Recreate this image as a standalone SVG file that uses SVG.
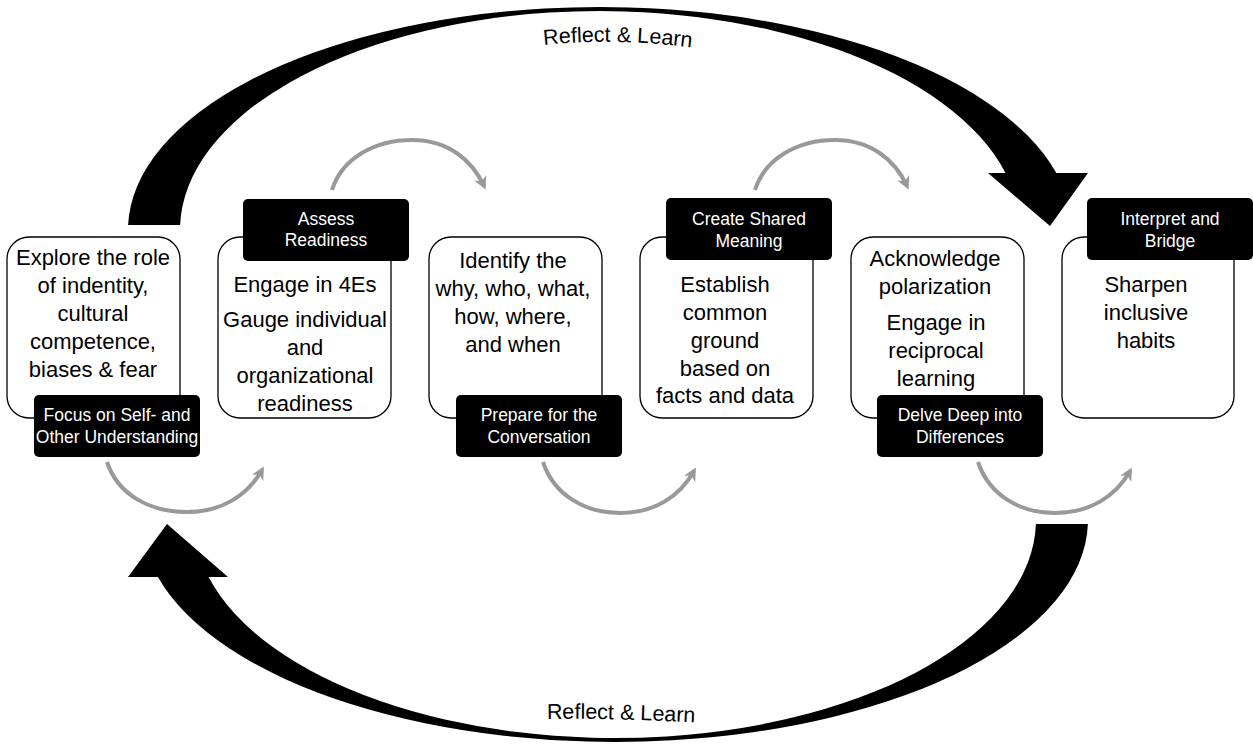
<svg xmlns="http://www.w3.org/2000/svg" width="1253" height="744" viewBox="0 0 1253 744">
<style>
.box{fill:#fff;stroke:#000;stroke-width:1.3}
.lab{fill:#000}
.body{font-family:"Liberation Sans",Arial,sans-serif;font-size:22px;fill:#000;text-anchor:middle}
.lt{font-family:"Liberation Sans",Arial,sans-serif;font-size:17.5px;fill:#fff;text-anchor:middle}
.rl{font-family:"Liberation Sans",Arial,sans-serif;font-size:21.5px;fill:#000}
.g{fill:none;stroke:#999;stroke-width:4}
.big{fill:#000}
</style>
<defs>
<marker id="ah" markerUnits="userSpaceOnUse" viewBox="0 0 10 10" refX="7" refY="5" markerWidth="13" markerHeight="13" orient="auto">
<path d="M0,0 L10,5 L0,10 L3,5 z" fill="#999"/>
</marker>
<path id="tp1" d="M544,45 Q 615,37 705,49"/>
<path id="tp2" d="M547,719 Q 620,718 705,723"/>
</defs>
<g id="connectors">
<path class="big" d="M128.1,225 A472,223 0 0 1 1056.3,173 L1088,173 L1050,226 L988,173 L1005.5,173 A420,219 0 0 0 180.1,225 Z"/>
<path class="big" d="M1087.9,524 A473,222 0 0 1 157.9,577 L128,577 L167,524 L228,577 L208.6,577 A421,218 0 0 0 1035.9,524 Z"/>
<path class="g" marker-end="url(#ah)" d="M332,190 C342,158 375,140 412,140 C448,140 472,160 484,186"/>
<path class="g" marker-end="url(#ah)" d="M755,190 C765,158 798,140 835,140 C871,140 895,160 907,186"/>
<path class="g" marker-end="url(#ah)" d="M107,462 C118,495 150,512 187,512 C222,512 248,495 262,470"/>
<path class="g" marker-end="url(#ah)" d="M543,462 C554,495 585,513 620,513 C655,513 680,496 694,471"/>
<path class="g" marker-end="url(#ah)" d="M978,462 C989,495 1020,513 1055,513 C1090,513 1116,496 1130,471"/>
<text class="rl"><textPath href="#tp1">Reflect &amp; Learn</textPath></text>
<text class="rl"><textPath href="#tp2">Reflect &amp; Learn</textPath></text>
</g>
<g id="n1">
<rect class="box" x="7" y="237" width="173" height="181" rx="22"/>
<text class="body" x="93" y="265">Explore the role</text>
<text class="body" x="93" y="293">of indentity,</text>
<text class="body" x="93" y="321">cultural</text>
<text class="body" x="93" y="349">competence,</text>
<text class="body" x="93" y="377">biases &amp; fear</text>
<rect class="lab" x="34" y="395" width="166" height="62" rx="5"/>
<text class="lt" x="117" y="421">Focus on Self- and</text>
<text class="lt" x="117" y="443">Other Understanding</text>
</g>
<g id="n2">
<rect class="box" x="218" y="237" width="173" height="181" rx="22"/>
<text class="body" x="305" y="292">Engage in 4Es</text>
<text class="body" x="305" y="327">Gauge individual</text>
<text class="body" x="305" y="355">and</text>
<text class="body" x="305" y="383">organizational</text>
<text class="body" x="305" y="411">readiness</text>
<rect class="lab" x="243" y="199" width="166" height="62" rx="5"/>
<text class="lt" x="326" y="225">Assess</text>
<text class="lt" x="326" y="246">Readiness</text>
</g>
<g id="n3">
<rect class="box" x="429" y="237" width="173" height="181" rx="22"/>
<text class="body" x="513" y="268">Identify the</text>
<text class="body" x="513" y="296">why, who, what,</text>
<text class="body" x="513" y="324">how, where,</text>
<text class="body" x="513" y="352">and when</text>
<rect class="lab" x="456" y="395" width="166" height="62" rx="5"/>
<text class="lt" x="539" y="421">Prepare for the</text>
<text class="lt" x="539" y="443">Conversation</text>
</g>
<g id="n4">
<rect class="box" x="640" y="237" width="173" height="181" rx="22"/>
<text class="body" x="725" y="292">Establish</text>
<text class="body" x="725" y="320">common</text>
<text class="body" x="725" y="348">ground</text>
<text class="body" x="725" y="376">based on</text>
<text class="body" x="725" y="403">facts and data</text>
<rect class="lab" x="666" y="198" width="166" height="62" rx="5"/>
<text class="lt" x="749" y="225">Create Shared</text>
<text class="lt" x="749" y="247">Meaning</text>
</g>
<g id="n5">
<rect class="box" x="851" y="237" width="173" height="181" rx="22"/>
<text class="body" x="935" y="266">Acknowledge</text>
<text class="body" x="935" y="294">polarization</text>
<text class="body" x="936" y="330">Engage in</text>
<text class="body" x="936" y="358">reciprocal</text>
<text class="body" x="936" y="386">learning</text>
<rect class="lab" x="877" y="395" width="166" height="62" rx="5"/>
<text class="lt" x="960" y="421">Delve Deep into</text>
<text class="lt" x="960" y="443">Differences</text>
</g>
<g id="n6">
<rect class="box" x="1062" y="237" width="172" height="181" rx="22"/>
<text class="body" x="1146" y="292">Sharpen</text>
<text class="body" x="1146" y="320">inclusive</text>
<text class="body" x="1146" y="348">habits</text>
<rect class="lab" x="1087" y="198" width="166" height="62" rx="5"/>
<text class="lt" x="1170" y="225">Interpret and</text>
<text class="lt" x="1170" y="247">Bridge</text>
</g>
</svg>
